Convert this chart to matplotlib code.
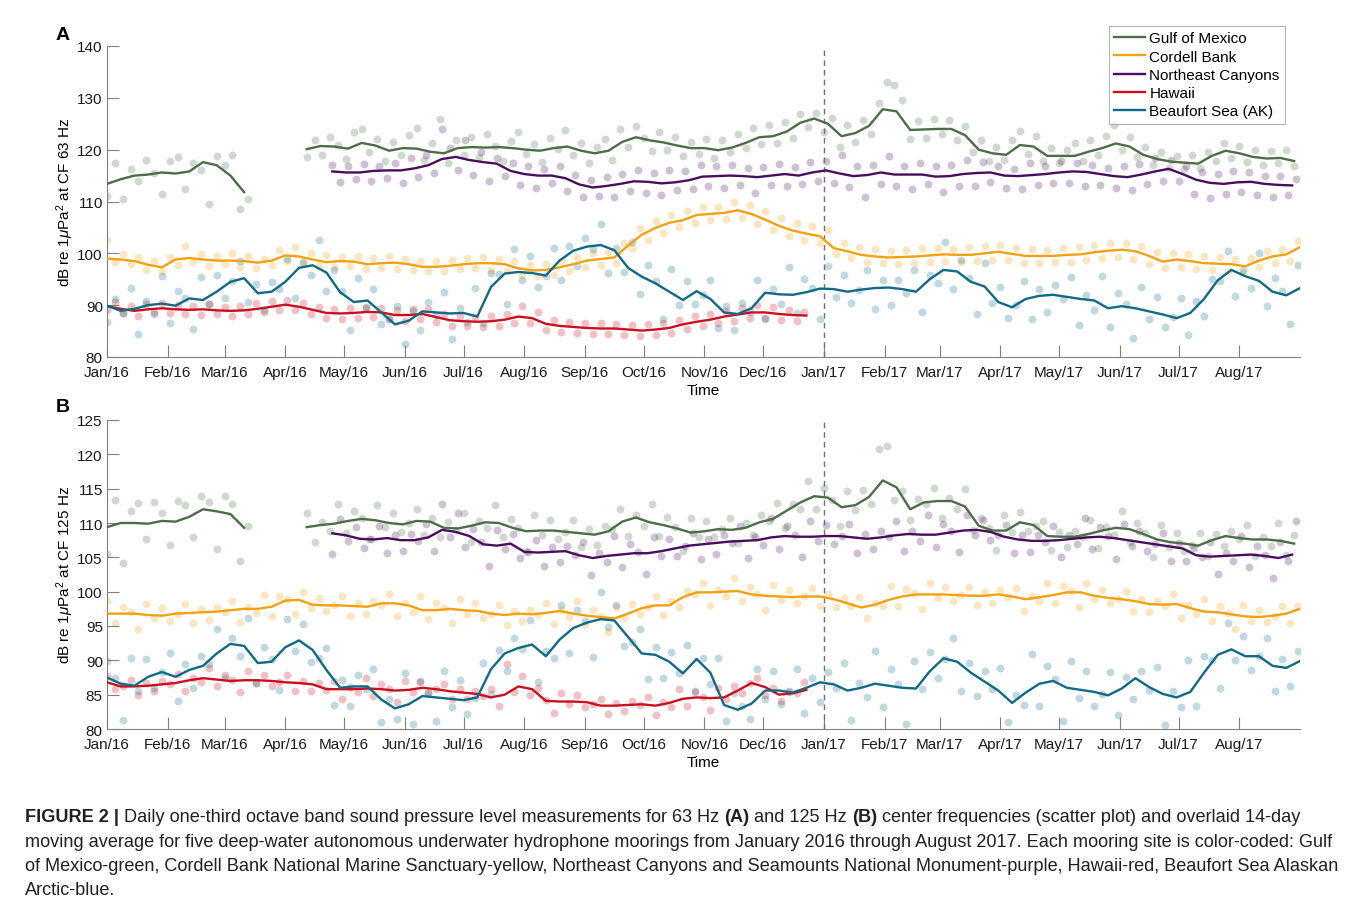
import numpy as np
import matplotlib as mpl
import matplotlib.pyplot as plt
import matplotlib.dates as mdates
import pandas as pd

plt.rcParams.update({
    'font.family': ['Liberation Sans', 'DejaVu Sans'],
    'font.size': 11,
    'axes.edgecolor': '#808080',
    'axes.linewidth': 0.8,
    'xtick.color': '#808080',
    'ytick.color': '#808080',
    'xtick.labelcolor': '#1a1a1a',
    'ytick.labelcolor': '#1a1a1a',
    'xtick.direction': 'in',
    'ytick.direction': 'in',
    'mathtext.fontset': 'custom',
    'mathtext.rm': 'Liberation Sans',
    'mathtext.it': 'Liberation Sans:italic',
})

# ------------------------------------------------------------------
# data (read off the figure): 14-day moving average sampled weekly,
# daily points sampled every 4th day. day 0 = 2016-01-01
# ------------------------------------------------------------------
LINE_STEP = 7
DOT_STEP = 4

sites = ['Gulf of Mexico', 'Cordell Bank', 'Northeast Canyons', 'Hawaii', 'Beaufort Sea (AK)']
colors = ['#4b6e46', '#f5a00f', '#4a0d5e', '#cc0f1e', '#0f6a87']

gom_start = ['2016-01-01', '2016-04-12']
ne_start = '2016-04-25'
full_start = '2016-01-01'
month_ticks = pd.date_range('2016-01-01', '2017-08-01', freq='MS')

# ---- panel A, 63 Hz ----
gom_a_line1 = [113.4, 114.3, 115.0, 115.2, 115.6, 115.4, 115.8, 117.6, 117.0, 115.0, 111.8]
gom_a_line2 = [120.1, 120.7, 120.6, 120.2, 121.3, 120.8, 119.8, 120.3, 120.2, 119.6,
               119.3, 120.3, 120.5, 120.4, 120.5, 120.3, 120.0, 119.8, 120.3, 120.6,
               119.8, 119.3, 119.8, 121.5, 122.4, 121.8, 121.4, 120.8, 120.3, 120.3,
               119.9, 120.4, 121.3, 122.4, 122.6, 123.5, 125.2, 126.0, 125.0, 122.6,
               123.2, 124.6, 127.8, 127.4, 123.8, 123.9, 124.0, 124.0, 122.8, 120.0,
               119.3, 119.0, 120.9, 120.6, 118.8, 118.8, 118.8, 119.6, 120.3, 121.2,
               120.6, 119.0, 118.2, 117.7, 117.5, 117.3, 118.8, 119.8, 119.3, 118.6,
               118.3, 118.4, 117.8]
gom_a_dots1 = [111.0, 117.5, 110.5, 116.2, 114.0, 118.0, 115.5, 111.5, 117.8, 118.5,
               112.5, 117.5, 116.0, 109.5, 118.8, 117.0, 119.0, 108.5, 110.5]
gom_a_dots2 = [118.5, 121.8, 119.0, 122.5, 120.9, 118.2, 123.5, 124.0, 119.5, 122.0,
               117.8, 121.5, 119.0, 122.8, 124.2, 118.0, 121.3, 126.0, 117.5, 121.9,
               119.0, 122.5, 118.6, 123.0, 120.8, 117.9, 121.7, 123.4, 119.2, 121.0,
               117.6, 122.3, 120.1, 123.8, 118.9, 121.2, 117.4, 120.5, 122.0, 118.1,
               123.9, 120.6, 124.6, 122.3, 119.8, 123.5, 120.0, 122.4, 118.7, 121.5,
               119.2, 122.0, 118.3, 121.8, 119.6, 123.0, 120.4, 124.1, 121.0, 124.7,
               121.2, 125.4, 122.3, 126.8, 124.4, 127.0, 123.5, 126.2, 120.6, 124.8,
               121.5, 125.7, 123.0, 129.0, 133.0, 132.4, 129.5, 122.0, 125.6, 122.3,
               126.0, 123.1, 125.8, 121.9, 124.5, 119.5, 121.8, 117.9, 120.6, 118.0,
               121.9, 123.6, 119.2, 122.6, 117.8, 120.3, 117.5, 119.9, 121.2, 117.9,
               121.8, 119.0, 122.7, 124.8, 120.0, 122.4, 118.6, 120.5, 117.0, 119.6,
               116.4, 118.8, 116.2, 118.9, 116.5, 119.6, 117.8, 121.2, 118.4, 120.8,
               117.6, 119.9, 117.0, 119.8, 117.4, 120.0, 116.9]

cb_a_line = [99.0, 98.8, 98.5, 97.8, 97.3, 98.8, 99.1, 98.8, 98.6, 98.6,
             98.5, 98.2, 98.6, 99.6, 99.4, 98.8, 98.3, 98.5, 98.4, 97.9,
             98.1, 98.2, 97.9, 97.4, 97.4, 97.6, 97.9, 98.1, 98.1, 97.9,
             97.1, 96.7, 96.8, 97.3, 97.9, 98.6, 98.9, 99.2, 101.5, 103.6,
             104.9, 105.9, 106.4, 107.4, 107.6, 107.8, 108.3, 107.6, 106.5, 105.3,
             104.4, 103.8, 103.3, 101.0, 100.4, 99.7, 99.4, 99.2, 99.3, 99.4,
             99.6, 99.8, 99.7, 99.7, 100.0, 100.3, 99.9, 99.5, 99.5, 99.5,
             99.7, 99.8, 100.2, 100.5, 100.7, 100.4, 99.5, 98.4, 98.8, 98.5,
             98.1, 98.0, 97.9, 97.5, 98.6, 99.4, 99.8, 101.2]
cb_a_dots = [102.5, 98.3, 99.8, 97.9, 99.2, 96.8, 98.6, 96.5, 99.3, 97.8,
             101.5, 98.4, 99.9, 97.6, 99.5, 98.0, 100.1, 97.3, 99.4, 97.1,
             99.0, 97.8, 100.6, 98.6, 101.2, 98.2, 100.0, 97.5, 99.6, 97.3,
             99.2, 97.6, 99.5, 96.9, 99.1, 97.2, 99.4, 97.0, 98.9, 96.7,
             98.6, 96.5, 98.5, 96.6, 98.7, 96.9, 99.1, 97.2, 99.3, 96.8,
             99.0, 96.6, 98.5, 95.9, 97.8, 95.6, 97.9, 95.9, 98.6, 96.5,
             99.2, 97.3, 100.0, 97.7, 100.3, 98.2, 102.0, 101.0, 104.8, 102.6,
             106.3, 104.0, 107.4, 105.0, 108.1, 105.9, 109.0, 106.4, 108.9, 106.6,
             110.0, 106.9, 109.3, 105.6, 108.2, 104.5, 106.8, 103.3, 105.9, 102.6,
             105.2, 102.0, 104.5, 99.8, 102.0, 99.1, 101.2, 98.4, 100.8, 98.1,
             100.5, 98.0, 100.6, 98.2, 101.0, 98.4, 101.1, 98.5, 100.9, 98.3,
             101.2, 98.6, 101.4, 98.8, 101.7, 98.7, 101.1, 98.2, 100.9, 98.1,
             100.7, 98.3, 101.0, 98.4, 101.3, 98.8, 101.6, 99.1, 102.0, 99.3,
             101.9, 99.0, 101.4, 98.0, 100.2, 97.1, 100.0, 97.4, 99.8, 97.0,
             99.4, 96.8, 99.3, 96.6, 99.0, 96.3, 99.1, 97.3, 100.4, 98.2,
             100.9, 98.6, 102.3]

ne_a_line = [115.8, 115.6, 115.6, 115.9, 116.0, 116.0, 116.4, 117.0, 118.2, 118.6,
             118.0, 117.6, 117.3, 115.9, 115.3, 115.0, 115.0, 114.5, 113.3, 112.7,
             113.0, 113.4, 113.9, 113.8, 113.5, 113.7, 114.1, 114.8, 114.9, 115.0,
             114.9, 114.7, 115.0, 115.3, 115.0, 115.6, 116.0, 115.4, 114.9, 115.1,
             115.6, 115.2, 115.2, 115.2, 114.8, 114.9, 115.3, 115.5, 115.6, 115.0,
             114.9, 115.1, 115.3, 115.6, 115.8, 115.7, 115.3, 114.9, 114.7, 115.2,
             115.8, 116.3, 115.3, 114.2, 113.6, 113.4, 113.7, 113.8, 113.4, 113.2,
             113.1]
ne_a_dots = [117.0, 113.8, 116.9, 114.3, 117.2, 113.9, 116.8, 114.5, 117.5, 113.6,
             118.3, 114.8, 118.9, 115.5, 124.0, 120.4, 116.0, 121.8, 115.2, 119.5,
             113.9, 118.4, 115.0, 117.5, 113.2, 116.8, 112.6, 116.3, 113.5, 116.9,
             112.0, 115.2, 110.9, 114.1, 111.0, 114.7, 110.8, 115.3, 112.0, 116.1,
             111.6, 115.5, 111.3, 116.0, 112.2, 115.9, 112.4, 117.0, 113.0, 116.8,
             112.6, 117.1, 113.1, 116.5, 111.7, 116.7, 113.2, 117.3, 112.9, 116.6,
             113.4, 117.6, 114.0, 117.9, 113.5, 118.9, 112.8, 116.8, 110.9, 117.0,
             113.3, 118.7, 113.0, 116.9, 112.5, 117.4, 113.4, 116.8, 111.8, 117.1,
             113.0, 118.0, 112.9, 117.6, 113.8, 116.9, 112.7, 116.3, 112.4, 117.5,
             113.2, 116.8, 113.5, 117.9, 113.6, 117.4, 112.9, 117.0, 113.1, 116.5,
             112.6, 116.8, 112.3, 117.2, 113.4, 118.3, 114.0, 118.1, 113.9, 116.9,
             111.5, 115.6, 110.7, 115.3, 111.5, 115.9, 111.8, 115.7, 111.3, 115.0,
             110.9, 114.9, 111.2, 114.4]

hi_a_line = [89.8, 89.3, 88.9, 89.2, 89.4, 89.2, 89.1, 89.2, 89.0, 88.9,
             89.0, 89.3, 89.7, 90.1, 89.7, 89.1, 88.5, 88.4, 88.5, 88.7,
             88.6, 88.1, 88.1, 88.3, 87.7, 87.1, 86.9, 86.8, 86.9, 87.2,
             87.8, 87.5, 86.4, 86.0, 85.8, 85.6, 85.5, 85.5, 85.3, 85.1,
             85.3, 85.6, 86.3, 86.8, 87.2, 87.8, 88.2, 88.6, 88.6, 88.3,
             88.1, 88.0]
hi_a_dots = [89.0, 90.6, 88.4, 89.9, 88.0, 90.2, 88.6, 90.4, 88.5, 90.0,
             88.3, 89.8, 88.1, 90.3, 88.2, 89.7, 87.9, 89.9, 88.3, 90.4,
             88.6, 90.9, 89.1, 91.0, 89.0, 90.4, 88.2, 89.6, 87.5, 89.3,
             87.4, 89.5, 87.6, 89.7, 87.8, 89.5, 87.3, 89.0, 87.0, 89.2,
             87.4, 89.3, 86.8, 88.2, 86.0, 87.9, 85.9, 87.8, 85.8, 87.9,
             86.0, 88.3, 86.6, 89.9, 86.5, 88.6, 85.3, 87.1, 84.9, 86.8,
             84.6, 86.5, 84.4, 86.6, 84.5, 86.4, 84.2, 86.2, 84.1, 86.3,
             84.3, 86.6, 84.7, 87.2, 85.4, 87.9, 86.0, 88.3, 86.5, 88.9,
             87.0, 89.5, 87.6, 90.0, 87.5, 89.6, 87.2, 89.1, 86.9, 88.6]

bs_a_line = [89.9, 88.9, 89.3, 90.0, 90.3, 89.9, 91.3, 91.0, 92.6, 94.5,
             95.2, 92.3, 92.6, 94.5, 97.2, 97.7, 96.3, 92.5, 90.6, 90.9,
             88.6, 86.3, 87.0, 88.8, 88.6, 88.4, 88.5, 87.8, 93.5, 96.1,
             96.4, 96.2, 95.7, 98.6, 100.5, 101.3, 101.6, 100.6, 97.2, 95.5,
             94.2, 92.6, 91.0, 92.7, 91.2, 88.6, 88.3, 89.4, 92.4, 92.1,
             92.0, 92.5, 93.2, 93.1, 92.6, 93.0, 93.3, 93.4, 93.1, 92.6,
             95.0, 96.8, 96.5, 94.5, 93.6, 90.6, 89.6, 91.2, 91.8, 92.0,
             91.6, 91.2, 90.9, 89.4, 89.8, 89.4, 88.8, 88.2, 87.5, 88.5,
             91.2, 94.8, 96.8, 95.6, 94.7, 92.6, 91.9, 93.3]
bs_a_dots = [86.7, 91.1, 88.4, 93.3, 84.5, 90.8, 88.3, 95.7, 86.5, 92.7,
             91.4, 85.4, 95.5, 90.3, 95.8, 91.4, 94.6, 98.6, 90.7, 94.1,
             89.0, 94.4, 93.2, 99.0, 91.4, 98.3, 95.9, 102.5, 92.7, 96.8,
             92.7, 85.2, 95.2, 89.5, 93.2, 86.3, 87.3, 89.9, 82.5, 88.9,
             85.3, 90.6, 88.1, 92.6, 83.4, 89.4, 86.7, 93.4, 86.6, 96.2,
             96.0, 90.2, 100.8, 94.9, 99.4, 93.5, 95.7, 101.0, 94.8, 101.4,
             97.5, 103.0, 100.9, 105.7, 96.2, 101.1, 96.4, 102.2, 92.1, 97.7,
             94.7, 87.4, 96.9, 90.1, 94.7, 90.2, 92.0, 94.8, 85.6, 89.9,
             85.2, 90.4, 88.7, 94.8, 87.4, 93.1, 90.3, 97.4, 88.5, 95.1,
             93.3, 87.3, 97.6, 91.6, 95.9, 90.4, 92.9, 96.8, 89.2, 94.8,
             90.1, 94.9, 92.4, 96.7, 88.6, 95.9, 94.2, 102.2, 93.1, 98.7,
             95.3, 88.2, 98.1, 90.5, 93.6, 87.5, 90.1, 94.6, 87.3, 93.2,
             88.7, 93.8, 91.2, 95.5, 86.2, 91.9, 89.1, 95.6, 85.8, 92.4,
             90.3, 83.6, 93.6, 87.4, 91.6, 85.8, 87.7, 91.4, 84.3, 90.9,
             88.0, 95.1, 94.6, 100.5, 91.7, 96.7, 93.4, 100.1, 89.9, 95.2,
             92.7, 86.4, 97.8]

# ---- panel B, 125 Hz ----
gom_b_line1 = [109.4, 110.0, 110.0, 109.9, 110.3, 110.2, 110.9, 112.0, 111.7, 111.3, 109.3]
gom_b_line2 = [109.4, 109.7, 109.9, 110.3, 110.6, 110.4, 110.0, 109.8, 110.3, 110.2,
               109.3, 109.2, 109.6, 110.1, 110.0, 109.3, 108.8, 108.9, 108.9, 108.7,
               108.5, 108.3, 108.8, 110.2, 110.8, 110.1, 109.7, 109.2, 108.6, 108.8,
               109.1, 109.0, 109.3, 110.1, 110.6, 111.8, 113.0, 113.9, 113.7, 112.3,
               112.6, 113.8, 116.2, 115.2, 112.0, 113.0, 113.2, 113.2, 112.4, 109.6,
               108.9, 108.9, 110.1, 109.7, 108.1, 108.0, 108.0, 108.4, 108.9, 109.3,
               109.1, 108.4, 107.6, 107.2, 107.0, 106.7, 107.5, 108.1, 107.8, 107.6,
               107.6, 107.4, 107.0]
gom_b_dots1 = [105.5, 113.3, 104.2, 111.8, 112.9, 107.6, 113.0, 111.4, 106.8, 113.2,
               112.6, 108.0, 114.0, 113.1, 106.2, 113.9, 112.7, 104.5, 109.5]
gom_b_dots2 = [111.4, 107.2, 110.1, 108.9, 112.7, 108.5, 111.8, 110.8, 107.6, 112.6,
               109.4, 111.4, 108.7, 110.0, 112.1, 108.3, 110.7, 108.0, 110.2, 109.0,
               111.4, 107.2, 110.3, 109.2, 112.6, 107.9, 110.6, 109.2, 105.9, 111.1,
               108.2, 110.4, 107.7, 108.7, 110.4, 106.5, 109.1, 106.8, 109.5, 109.1,
               112.0, 108.1, 111.2, 109.5, 112.7, 108.1, 110.9, 109.4, 105.9, 110.8,
               108.0, 110.3, 107.9, 109.1, 110.8, 107.1, 110.0, 108.3, 111.1, 110.3,
               112.9, 109.2, 112.7, 112.1, 116.1, 112.1, 115.1, 113.3, 109.5, 114.7,
               111.9, 114.8, 112.8, 120.8, 121.2, 113.4, 114.7, 110.5, 113.5, 112.8,
               115.1, 110.8, 113.6, 112.0, 115.0, 109.0, 110.8, 109.3, 106.0, 111.1,
               108.7, 111.6, 108.8, 109.5, 110.3, 106.1, 108.7, 106.5, 108.9, 108.0,
               110.4, 106.3, 109.4, 108.3, 111.8, 107.3, 110.0, 108.5, 105.0, 109.7,
               106.5, 108.6, 105.9, 106.8, 108.6, 105.2, 108.4, 106.6, 108.9, 107.6,
               109.7, 105.2, 108.0, 106.7, 110.0, 105.4, 108.3]

cb_b_line = [96.8, 96.8, 96.8, 96.6, 96.5, 96.8, 96.9, 97.0, 97.1, 97.3,
             97.5, 97.5, 97.8, 98.7, 98.8, 98.1, 98.0, 98.0, 97.9, 97.8,
             98.3, 98.3, 98.0, 97.3, 97.3, 97.5, 97.3, 97.2, 96.8, 96.6,
             96.8, 96.7, 96.9, 97.2, 96.8, 96.5, 96.3, 96.1, 96.8, 97.6,
             98.0, 98.0, 99.2, 99.9, 99.9, 100.0, 100.1, 99.6, 99.4, 99.3,
             99.2, 99.3, 99.3, 98.9, 98.3, 97.7, 98.1, 98.8, 99.3, 99.6,
             99.6, 99.6, 99.5, 99.4, 99.4, 99.6, 99.3, 98.9, 99.2, 99.5,
             99.9, 99.9, 99.4, 99.1, 98.9, 98.6, 98.2, 98.1, 98.2, 97.6,
             97.1, 97.0, 96.7, 96.4, 96.3, 96.5, 96.8, 97.5]
cb_b_dots = [98.7, 95.5, 97.8, 97.0, 94.6, 98.2, 96.1, 97.6, 95.8, 96.8,
             98.2, 95.5, 97.5, 95.9, 97.7, 97.0, 98.7, 95.6, 97.8, 96.9,
             99.5, 96.5, 99.3, 98.9, 96.7, 100.0, 97.6, 99.1, 97.2, 98.0,
             99.3, 96.5, 98.4, 96.7, 98.6, 98.1, 99.7, 96.5, 98.4, 97.1,
             99.3, 96.0, 98.3, 97.6, 95.4, 99.0, 96.8, 98.3, 96.2, 96.8,
             98.0, 95.2, 97.2, 95.7, 97.3, 96.6, 98.3, 95.3, 97.4, 96.3,
             98.6, 95.2, 97.4, 96.5, 94.1, 97.8, 96.1, 98.2, 96.7, 97.8,
             99.3, 96.6, 98.7, 97.8, 100.1, 99.6, 101.3, 98.1, 100.3, 99.4,
             102.0, 98.7, 100.7, 99.7, 97.3, 101.0, 98.8, 100.3, 98.4, 99.3,
             100.6, 97.9, 99.6, 97.7, 99.1, 97.9, 99.2, 96.1, 98.4, 97.9,
             100.8, 97.9, 100.4, 99.8, 97.5, 101.2, 99.1, 100.7, 98.7, 99.5,
             100.7, 98.0, 99.9, 98.4, 100.2, 99.2, 100.6, 97.2, 99.3, 98.6,
             101.3, 98.3, 100.8, 100.1, 97.8, 101.3, 98.9, 100.3, 98.3, 99.0,
             100.1, 97.2, 98.9, 97.1, 98.7, 97.9, 99.6, 96.2, 98.0, 96.7,
             99.0, 95.7, 97.9, 96.9, 94.5, 98.0, 95.8, 97.4, 95.6, 96.5,
             97.9, 95.5, 97.9]

ne_b_line = [108.5, 108.2, 107.7, 107.6, 107.8, 107.5, 107.5, 107.9, 109.0, 108.7,
             108.1, 106.9, 106.7, 107.0, 105.8, 105.7, 105.8, 105.9, 105.3, 104.9,
             105.2, 105.4, 105.6, 105.6, 105.9, 106.3, 106.7, 106.9, 107.1, 107.3,
             107.4, 107.5, 107.9, 108.1, 108.0, 108.0, 108.1, 108.1, 107.9, 107.7,
             107.9, 108.2, 108.4, 108.3, 108.3, 108.6, 108.9, 109.0, 108.7, 108.0,
             107.6, 107.4, 107.4, 107.5, 107.7, 107.9, 108.0, 107.8, 107.5, 107.2,
             106.9, 106.6, 106.3, 105.3, 105.1, 105.2, 105.3, 105.4, 105.2, 104.9,
             105.4]
ne_b_dots = [105.5, 110.6, 107.4, 109.4, 106.4, 107.6, 109.5, 105.7, 108.3, 105.9,
             108.4, 107.4, 109.9, 105.9, 112.8, 107.9, 111.4, 106.5, 109.1, 107.2,
             103.8, 109.0, 106.2, 108.4, 104.9, 105.8, 107.5, 103.7, 106.5, 104.3,
             106.7, 105.3, 107.2, 102.4, 105.6, 104.3, 108.1, 103.6, 106.9, 105.8,
             102.6, 108.0, 105.2, 107.7, 105.2, 106.6, 108.6, 104.8, 107.7, 105.5,
             108.2, 107.1, 109.5, 104.9, 108.0, 106.8, 110.7, 106.2, 109.5, 108.2,
             105.0, 110.3, 107.4, 109.7, 106.9, 108.1, 109.8, 105.7, 108.4, 106.2,
             108.8, 107.9, 110.3, 105.9, 108.9, 107.4, 111.1, 106.5, 109.8, 108.8,
             105.8, 111.2, 108.3, 110.5, 107.5, 108.3, 109.7, 105.6, 108.2, 105.8,
             108.3, 107.2, 109.6, 105.1, 108.2, 106.9, 110.7, 106.2, 109.4, 108.1,
             104.8, 109.9, 106.7, 108.8, 105.9, 106.9, 108.5, 104.4, 107.1, 104.5,
             106.3, 105.0, 107.2, 102.6, 105.7, 104.4, 108.1, 103.6, 106.7, 105.4,
             102.0, 107.2, 104.4, 110.3]

hi_b_line = [86.8, 86.2, 86.2, 86.3, 86.5, 86.7, 87.1, 87.4, 87.2, 87.0,
             87.1, 87.1, 87.0, 86.8, 86.7, 86.5, 85.8, 85.8, 85.8, 85.9,
             85.8, 85.6, 85.7, 86.0, 85.8, 85.5, 85.3, 85.1, 84.6, 85.0,
             86.2, 85.8, 84.1, 84.0, 84.0, 83.9, 83.4, 83.4, 83.5, 83.6,
             83.4, 83.8, 84.4, 84.6, 84.5, 84.6, 85.6, 86.7, 86.1, 85.0,
             85.2, 85.7]
hi_b_dots = [87.7, 85.8, 86.2, 87.2, 85.0, 86.7, 85.5, 87.0, 86.5, 88.0,
             85.6, 87.5, 86.9, 88.9, 86.2, 87.8, 87.1, 85.4, 88.4, 86.7,
             87.9, 86.3, 86.9, 87.8, 85.5, 87.0, 85.6, 86.7, 85.7, 87.0,
             84.4, 86.1, 85.4, 87.5, 84.8, 86.6, 85.8, 83.9, 87.0, 85.4,
             86.9, 85.2, 85.8, 86.6, 84.3, 85.8, 84.3, 85.6, 84.8, 85.8,
             83.4, 89.5, 85.4, 87.7, 84.9, 85.9, 84.2, 82.3, 85.3, 83.6,
             84.9, 83.2, 83.7, 84.4, 82.2, 83.8, 82.6, 84.1, 83.5, 84.7,
             82.0, 83.9, 83.2, 85.8, 83.4, 85.4, 84.7, 82.8, 85.9, 84.3,
             86.2, 85.3, 86.7, 87.4, 84.9, 85.9, 84.1, 85.6, 85.3, 86.9]

bs_b_line = [87.5, 86.6, 86.3, 87.6, 88.3, 87.6, 88.6, 89.2, 91.0, 92.4,
             92.1, 89.6, 89.8, 91.9, 92.9, 91.5, 88.6, 86.0, 86.2, 86.2,
             84.3, 83.0, 83.6, 84.8, 84.6, 84.4, 84.2, 84.6, 88.7, 91.0,
             91.8, 92.3, 90.6, 93.0, 94.7, 95.5, 96.0, 95.8, 93.4, 91.0,
             90.8, 89.8, 88.1, 90.2, 88.2, 83.5, 82.8, 83.7, 85.6, 85.6,
             85.3, 86.0, 86.8, 86.5, 85.6, 86.0, 86.6, 86.3, 86.0, 85.9,
             88.4, 90.3, 89.8, 88.2, 86.9, 85.6, 83.8, 85.3, 86.6, 87.0,
             86.0, 85.7, 85.4, 84.9, 85.9, 87.4, 86.1, 85.1, 84.6, 85.4,
             88.2, 90.8, 91.6, 90.6, 90.6, 89.2, 88.9, 89.9]
bs_b_dots = [89.9, 87.4, 81.3, 90.3, 85.5, 90.2, 86.0, 88.3, 91.1, 84.1,
             89.5, 86.0, 90.7, 89.4, 94.6, 87.4, 93.2, 90.6, 96.2, 86.7,
             92.0, 90.2, 85.7, 96.0, 91.4, 95.3, 89.7, 90.3, 91.8, 83.5,
             87.2, 83.3, 87.8, 85.8, 88.7, 81.0, 84.4, 81.4, 88.2, 80.8,
             87.0, 85.2, 81.2, 88.5, 83.2, 87.1, 82.2, 84.5, 89.6, 85.1,
             91.5, 88.5, 93.3, 91.6, 95.9, 86.9, 91.4, 90.4, 98.0, 91.0,
             97.3, 95.8, 90.5, 100.0, 94.8, 98.0, 92.1, 92.7, 94.5, 87.3,
             92.0, 87.4, 91.2, 88.2, 92.2, 85.5, 90.4, 86.6, 90.3, 81.2,
             85.3, 83.4, 81.5, 88.7, 84.4, 88.4, 83.6, 85.4, 88.7, 82.3,
             87.5, 84.0, 88.3, 86.0, 89.6, 81.3, 86.7, 84.7, 91.4, 83.2,
             88.7, 86.5, 80.8, 89.9, 85.8, 91.2, 87.5, 90.2, 93.2, 85.5,
             89.6, 84.8, 88.5, 85.8, 88.9, 81.0, 85.0, 83.5, 90.9, 83.4,
             89.2, 87.3, 81.1, 89.9, 84.5, 88.4, 83.4, 85.1, 88.3, 82.0,
             87.6, 84.4, 88.4, 85.7, 89.1, 80.6, 85.5, 83.2, 90.1, 83.4,
             90.6, 90.1, 85.9, 95.5, 90.0, 93.5, 88.6, 90.6, 93.2, 85.6,
             90.2, 86.2, 91.4]

# per site: list of (start date, line values, dot values)
panel_a = [
    [(gom_start[0], gom_a_line1, gom_a_dots1), (gom_start[1], gom_a_line2, gom_a_dots2)],
    [(full_start, cb_a_line, cb_a_dots)],
    [(ne_start, ne_a_line, ne_a_dots)],
    [(full_start, hi_a_line, hi_a_dots)],
    [(full_start, bs_a_line, bs_a_dots)],
]
panel_b = [
    [(gom_start[0], gom_b_line1, gom_b_dots1), (gom_start[1], gom_b_line2, gom_b_dots2)],
    [(full_start, cb_b_line, cb_b_dots)],
    [(ne_start, ne_b_line, ne_b_dots)],
    [(full_start, hi_b_line, hi_b_dots)],
    [(full_start, bs_b_line, bs_b_dots)],
]


def days(start, n, step):
    return pd.Timestamp(start) + pd.to_timedelta(np.arange(n) * step, unit='D')


# ------------------------------------------------------------------
# figure
# ------------------------------------------------------------------
W, H = 1360, 903
fig = plt.figure(figsize=(W / 100, H / 100), dpi=100)

axA = fig.add_axes([107 / W, 1 - 358 / H, (1300 - 107) / W, (358 - 47) / H])
axB = fig.add_axes([107 / W, 1 - 730 / H, (1300 - 107) / W, (730 - 421) / H])

handles = []
for ax, panel, ylim, yticks, ylab in [
        (axA, panel_a, (80, 140), np.arange(80, 141, 10), 'dB re 1$\\mu$Pa$^2$ at CF 63 Hz'),
        (axB, panel_b, (80, 125), np.arange(80, 126, 5), 'dB re 1$\\mu$Pa$^2$ at CF 125 Hz')]:
    for segs, c in zip(panel, colors):
        for start, line, dots in segs:
            ax.scatter(days(start, len(dots), DOT_STEP), dots, s=32, color=c,
                       alpha=0.26, linewidths=0, zorder=1)
    hs = []
    for segs, c, name in zip(panel, colors, sites):
        for i, (start, line, dots) in enumerate(segs):
            h, = ax.plot(days(start, len(line), LINE_STEP), line, color=c, lw=1.7,
                         zorder=3, label=name if i == 0 else None)
            if i == 0:
                hs.append(h)
    handles = handles or hs

    ax.axvline(pd.Timestamp('2017-01-01'), color='#707070', lw=1, ls=(0, (4, 3)), zorder=2)

    ax.set_xlim(pd.Timestamp('2016-01-01'), pd.Timestamp('2017-09-01'))
    ax.set_ylim(*ylim)
    ax.set_yticks(yticks)
    ax.set_xticks(month_ticks)
    ax.xaxis.set_major_formatter(mdates.DateFormatter('%b/%y'))
    ax.tick_params(length=8.5, width=0.8, labelsize=11)
    ax.tick_params(axis='x', pad=5.5)
    ax.tick_params(axis='y', pad=3)
    ax.spines['top'].set_visible(False)
    ax.spines['right'].set_visible(False)
    ax.set_ylabel(ylab, fontsize=11, labelpad=1)
    ax.set_xlabel('Time', fontsize=11, labelpad=3)

leg = axA.legend(handles, sites, loc='upper right', bbox_to_anchor=(1285 / W, 1 - 27 / H),
                 bbox_transform=fig.transFigure, fontsize=11, frameon=True, fancybox=False,
                 edgecolor='#a0a0a0', borderpad=0.35, labelspacing=0.28, handlelength=2.0,
                 handletextpad=0.3, borderaxespad=0)
leg.get_frame().set_linewidth(0.8)
for lh in leg.get_lines():
    lh.set_linewidth(1.7)

fig.text(63 / W, 1 - 36 / H, 'A', fontsize=14, weight='bold', ha='center', va='center')
fig.text(63 / W, 1 - 408 / H, 'B', fontsize=14, weight='bold', ha='center', va='center')

# ------------------------------------------------------------------
# caption with bold runs
# ------------------------------------------------------------------
CAP = '#231f20'
cap_lines = [
    [('FIGURE 2 |', True),
     ('Daily one-third octave band sound pressure level measurements for 63 Hz', False),
     ('(A)', True), ('and 125 Hz', False), ('(B)', True),
     ('center frequencies (scatter plot) and overlaid 14-day', False)],
    [('moving average for five deep-water autonomous underwater hydrophone moorings from '
      'January 2016 through August 2017. Each mooring site is color-coded: Gulf', False)],
    [('of Mexico-green, Cordell Bank National Marine Sanctuary-yellow, Northeast Canyons and '
      'Seamounts National Monument-purple, Hawaii-red, Beaufort Sea Alaskan', False)],
    [('Arctic-blue.', False)],
]
cap_y = [818, 843, 867, 891]

renderer = fig.canvas.get_renderer()


def text_w(s, size, bold):
    t = fig.text(0, 0, s, fontsize=size, weight='bold' if bold else 'normal')
    w = t.get_window_extent(renderer=renderer).width
    t.remove()
    return w


# fit the font so the second caption line spans like the original
size = 12.0
size *= (1340 - 25) / text_w(cap_lines[1][0][0], size, False)

for runs, yy in zip(cap_lines, cap_y):
    x = 25.0
    for k, (s, bold) in enumerate(runs):
        fig.text(x / W, 1 - yy / H, s, fontsize=size, weight='bold' if bold else 'normal',
                 color=CAP, ha='left', va='center')
        x += text_w(s, size, bold)
        if k < len(runs) - 1:
            x += text_w('a a', size, bold) - text_w('aa', size, bold)

fig.savefig('out.png', dpi=100)
